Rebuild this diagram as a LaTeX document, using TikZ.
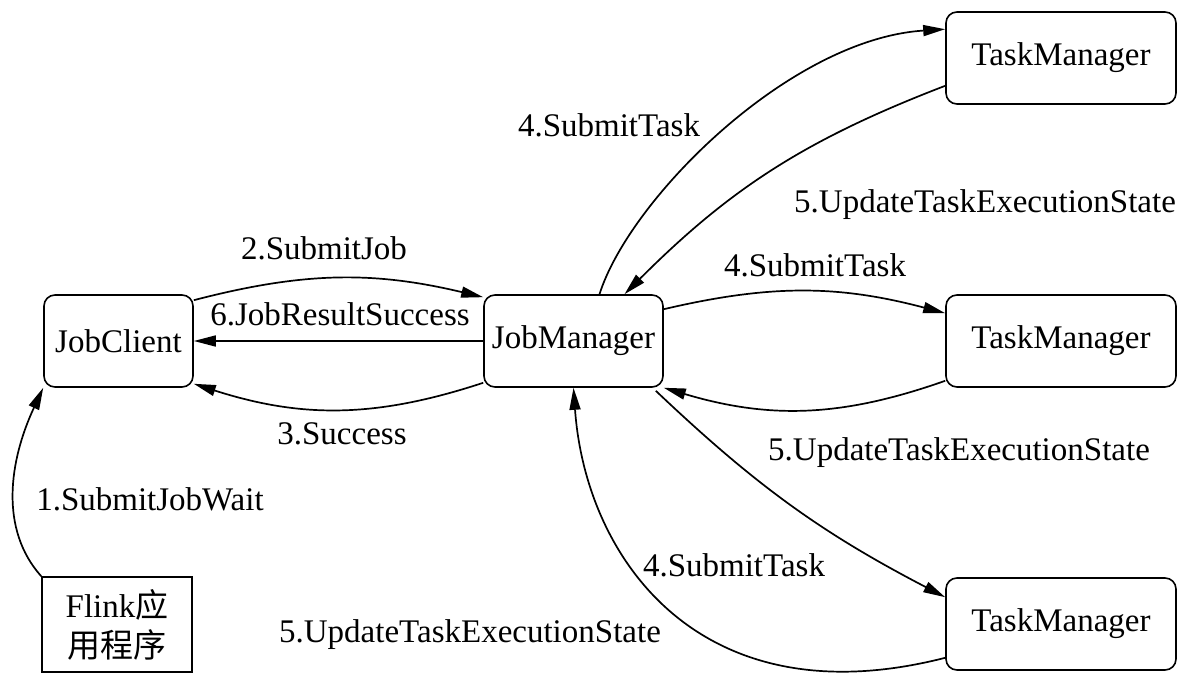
\documentclass[tikz,border=0pt]{standalone}
\usepackage{fontspec}
\setmainfont{Liberation Serif}
\newfontfamily\cjk{Noto Sans CJK SC}
\usetikzlibrary{arrows.meta,calc}
\begin{document}
\begin{tikzpicture}[x=1pt,y=1pt,
  font=\fontsize{33}{40}\selectfont,
  box/.style={draw,line width=1.6pt,rounded corners=11pt,minimum height=92pt,inner sep=0pt},
  plain/.style={draw,line width=1.6pt,minimum width=150pt,minimum height=95pt,inner sep=0pt,align=center},
  lbl/.style={anchor=base,inner sep=0pt},
  conn/.style={line width=1.7pt,-{Triangle[length=22pt,width=11pt]}}]
\useasboundingbox (0,0) rectangle (1202,-692);
\node[box,minimum width=149pt] (jc) at (118.5,-341) {JobClient};
\node[box,minimum width=179pt] (jm) at (573.5,-341) {JobManager};
\node[box,minimum width=230pt] (tm1) at (1061,-58) {TaskManager};
\node[box,minimum width=230pt] (tm2) at (1061,-341) {TaskManager};
\node[box,minimum width=230pt] (tm3) at (1061,-624) {TaskManager};
\node[plain] (fl) at (117,-624.5) {Flink{\cjk 应}\\{\cjk 用程序}};

% labels
\node[lbl] (l2) at (324,-260) {2.SubmitJob};
\node[lbl] (l6) at (340,-326) {6.JobResultSuccess};
\node[lbl] (l3) at (342,-444) {3.Success};
\node[lbl] (l1) at (150,-510) {1.SubmitJobWait};
\node[lbl] (l4a) at (609,-137) {4.SubmitTask};
\node[lbl] (l5a) at (985,-213) {5.UpdateTaskExecutionState};
\node[lbl] (l4b) at (815,-277) {4.SubmitTask};
\node[lbl] (l5b) at (959,-460) {5.UpdateTaskExecutionState};
\node[lbl] (l4c) at (734,-576) {4.SubmitTask};
\node[lbl] (l5c) at (470,-642) {5.UpdateTaskExecutionState};

% connectors
\draw[conn] (fl.north west) .. controls +(-42,47) and +(-34,-73) .. (jc.south west);
\draw[conn] ($(jc.north east)+(0,-6)$) to[bend left=14] ($(jm.north west)+(0,-3)$);
\draw[conn] (jm.west) -- (jc.east);
\draw[conn] ($(jm.south west)+(0,5)$) to[bend left=18] ($(jc.south east)+(0,4)$);
\draw[conn] ($(jm.north)+(26,0)$) .. controls +(30,95) and +(-156,-10) .. ($(tm1.north west)+(0,-18)$);
\draw[conn] ($(tm1.south west)+(0,19)$) to[bend right=12] ($(jm.north)+(51,0)$);
\draw[conn] ($(jm.north east)+(0,-15)$) to[bend left=14] ($(tm2.north west)+(0,-19)$);
\draw[conn] ($(tm2.south west)+(0,7)$) to[bend left=18] (jm.south east);
\draw[conn] ($(jm.south east)+(-8,-3)$) to[bend right=8] ($(tm3.north west)+(0,-20)$);
\draw[conn] ($(tm3.south west)+(0,13)$) .. controls +(-246,-63) and +(12,-170) .. (jm.south);
\end{tikzpicture}
\end{document}
